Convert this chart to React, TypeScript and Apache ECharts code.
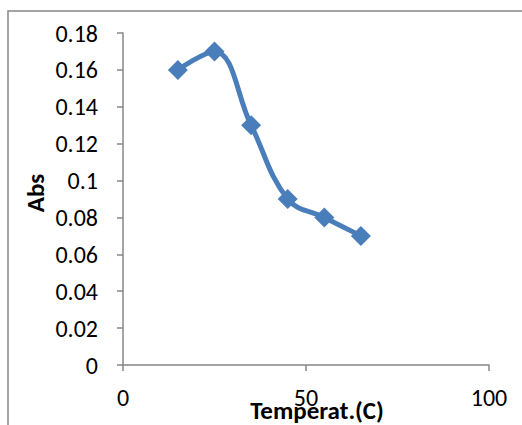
import React, { useEffect, useRef } from "react";
import * as echarts from "echarts";

const temperatures = [15, 25, 35, 45, 55, 65];
const absValues = [0.16, 0.17, 0.13, 0.09, 0.08, 0.07];
const xAxisName = "Temperat.(C)";
const yAxisName = "Abs";

export default function App() {
  const ref = useRef<HTMLDivElement>(null);
  useEffect(() => {
    if (!ref.current) return;
    const chart = echarts.init(ref.current, null, { renderer: "svg" });
    const font = "Carlito, Lato, 'Open Sans', sans-serif";
    chart.setOption({
      animation: false,
      backgroundColor: "#ffffff",
      grid: { left: 123, right: 33, top: 33, bottom: 60, containLabel: false },
      xAxis: {
        type: "value",
        min: 0,
        max: 100,
        interval: 50,
        axisLine: { show: true, lineStyle: { color: "#878787", width: 1.5 } },
        axisTick: { show: true, length: 6, lineStyle: { color: "#878787", width: 1.5 } },
        splitLine: { show: false },
        axisLabel: { color: "#000", fontSize: 24, fontFamily: font, margin: 20 },
      },
      yAxis: {
        type: "value",
        min: 0,
        max: 0.18,
        interval: 0.02,
        axisLine: { show: true, lineStyle: { color: "#878787", width: 1.5 } },
        axisTick: { show: true, length: 6, lineStyle: { color: "#878787", width: 1.5 } },
        splitLine: { show: false },
        axisLabel: {
          color: "#000",
          fontSize: 24,
          fontFamily: font,
          margin: 25,
          formatter: (v: number) => String(parseFloat(v.toFixed(2))),
        },
      },
      graphic: [
        {
          type: "rect",
          shape: { x: 8, y: 11, width: 700, height: 600 },
          style: { fill: "none", stroke: "#878787", lineWidth: 1.5 },
          silent: true,
        },
        {
          type: "text",
          x: 317,
          y: 410,
          style: {
            text: xAxisName,
            fontSize: 25,
            fontWeight: "bold",
            fontFamily: font,
            fill: "#000",
            align: "center",
            verticalAlign: "middle",
          },
        },
        {
          type: "text",
          x: 35,
          y: 193,
          rotation: Math.PI / 2,
          style: {
            text: yAxisName,
            fontSize: 25,
            fontWeight: "bold",
            fontFamily: font,
            fill: "#000",
            align: "center",
            verticalAlign: "middle",
          },
        },
      ],
      series: [
        {
          type: "line",
          data: temperatures.map((t, i) => [t, absValues[i]]),
          smooth: 0.4,
          symbol: "diamond",
          symbolSize: 20,
          lineStyle: { color: "#4a7ebb", width: 5 },
          itemStyle: { color: "#4a7ebb" },
        },
      ],
    });
    return () => chart.dispose();
  }, []);
  return <div ref={ref} style={{ width: 522, height: 425, position: "absolute", left: 0, top: 0 }} />;
}
